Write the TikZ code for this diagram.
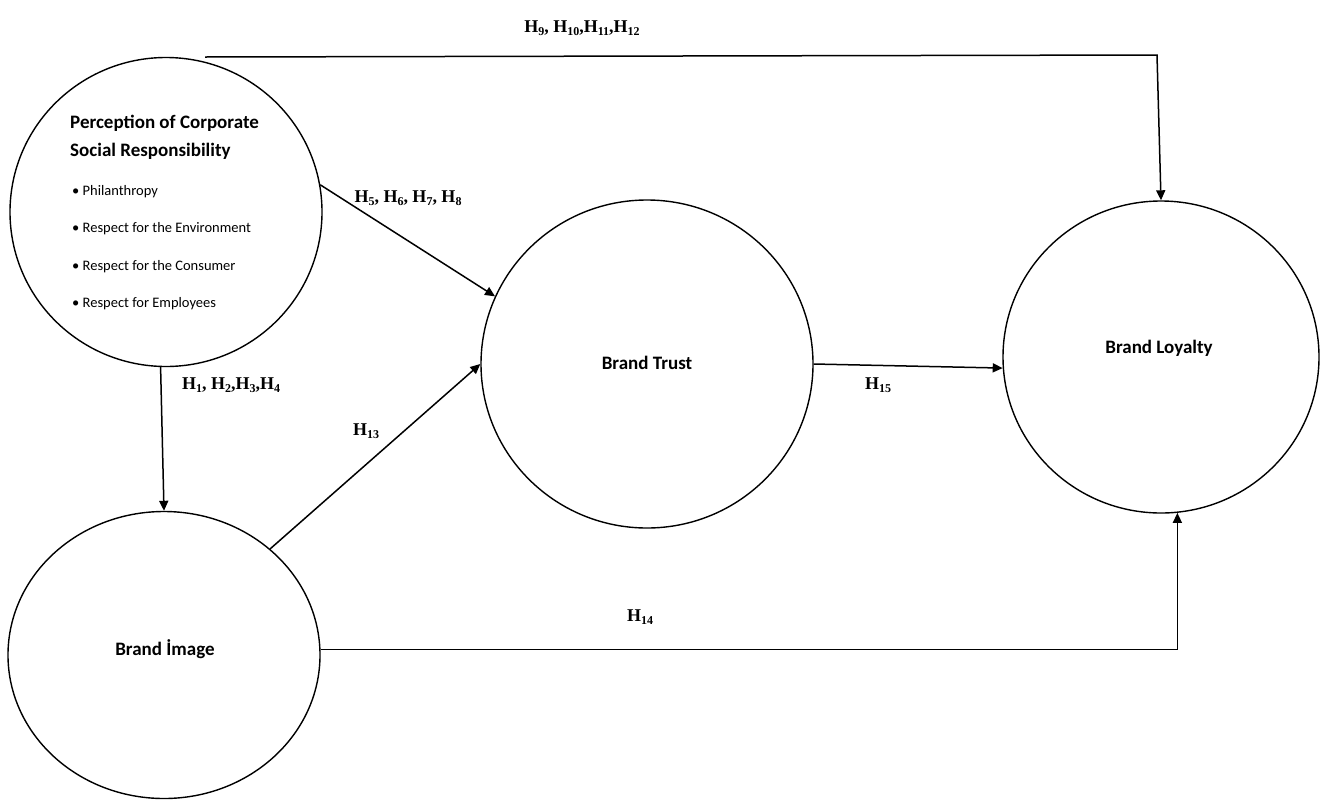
\documentclass[tikz,border=0pt]{standalone}
\usepackage{fontspec}
\setmainfont{Carlito}
\newfontfamily\hfont{Liberation Serif}
\usetikzlibrary{shapes.geometric,arrows.meta}
\newcommand\hyp[1]{H\raisebox{-0.4ex}{\fontsize{12}{12}\selectfont #1}}
\tikzset{
  construct/.style={draw, ellipse, line width=1.4pt, inner sep=0pt},
  conn/.style={line width=1.5pt, -{Triangle[length=10pt,width=9pt]}},
  hlab/.style={font=\hfont\bfseries\fontsize{18}{18}\selectfont, inner sep=1pt},
  title/.style={font=\bfseries\fontsize{19}{19}\selectfont, anchor=west, inner sep=0pt},
  item/.style={font=\fontsize{14.5}{14.5}\selectfont, anchor=west, inner sep=0pt},
  cname/.style={font=\bfseries\fontsize{19}{19}\selectfont, inner sep=0pt}
}
\begin{document}
\begin{tikzpicture}[x=1pt,y=-1pt]
\useasboundingbox (0,0) rectangle (1322,801);
% constructs
\node[construct, minimum width=312pt, minimum height=309pt] (csr) at (166,212) {};
\node[construct, minimum width=312pt, minimum height=287pt] (img) at (164,655) {};
\node[construct, minimum width=332pt, minimum height=328pt] (trust) at (647,364) {};
\node[construct, minimum width=316pt, minimum height=312pt] (loy) at (1161,357) {};
% texts
\node[title] (t1) at (70,123) {Perception of Corporate};
\node[title] (t2) at (70,151) {Social Responsibility};
\node[item] (i1) at (72,192) {\textbullet\ Philanthropy};
\node[item] (i2) at (72,229) {\textbullet\ Respect for the Environment};
\node[item] (i3) at (72,267) {\textbullet\ Respect for the Consumer};
\node[item] (i4) at (72,304) {\textbullet\ Respect for Employees};
\node[cname] (imgtxt) at (165,649) {Brand İmage};
\node[cname] (trusttxt) at (647,363) {Brand Trust};
\node[cname] (loytxt) at (1159,348) {Brand Loyalty};
% connectors
\coordinate (tstart) at (205,57);
\coordinate (tcorner) at (1157,55);
\draw[conn] (tstart) -- (tcorner) -- (loy.north);
\draw[conn] (csr.10.5) -- (trust.156);
\draw[conn] (csr.268) -- (img.90);
\draw[conn] (img.45.8) -- (trust.west);
\draw[conn] (trust.east) -- (loy.184);
\draw[conn] (img.2.6) -| (loy.276);
% labels
\node[hlab] (l1) at (582,28) {\hyp{9}, \hyp{10},\hyp{11},\hyp{12}};
\node[hlab] (l2) at (408,198) {\hyp{5}, \hyp{6}, \hyp{7}, \hyp{8}};
\node[hlab] (l3) at (231,385) {\hyp{1}, \hyp{2},\hyp{3},\hyp{4}};
\node[hlab] (l4) at (366,431) {\hyp{13}};
\node[hlab] (l5) at (878,385) {\hyp{15}};
\node[hlab] (l6) at (640,617) {\hyp{14}};
\end{tikzpicture}
\end{document}
